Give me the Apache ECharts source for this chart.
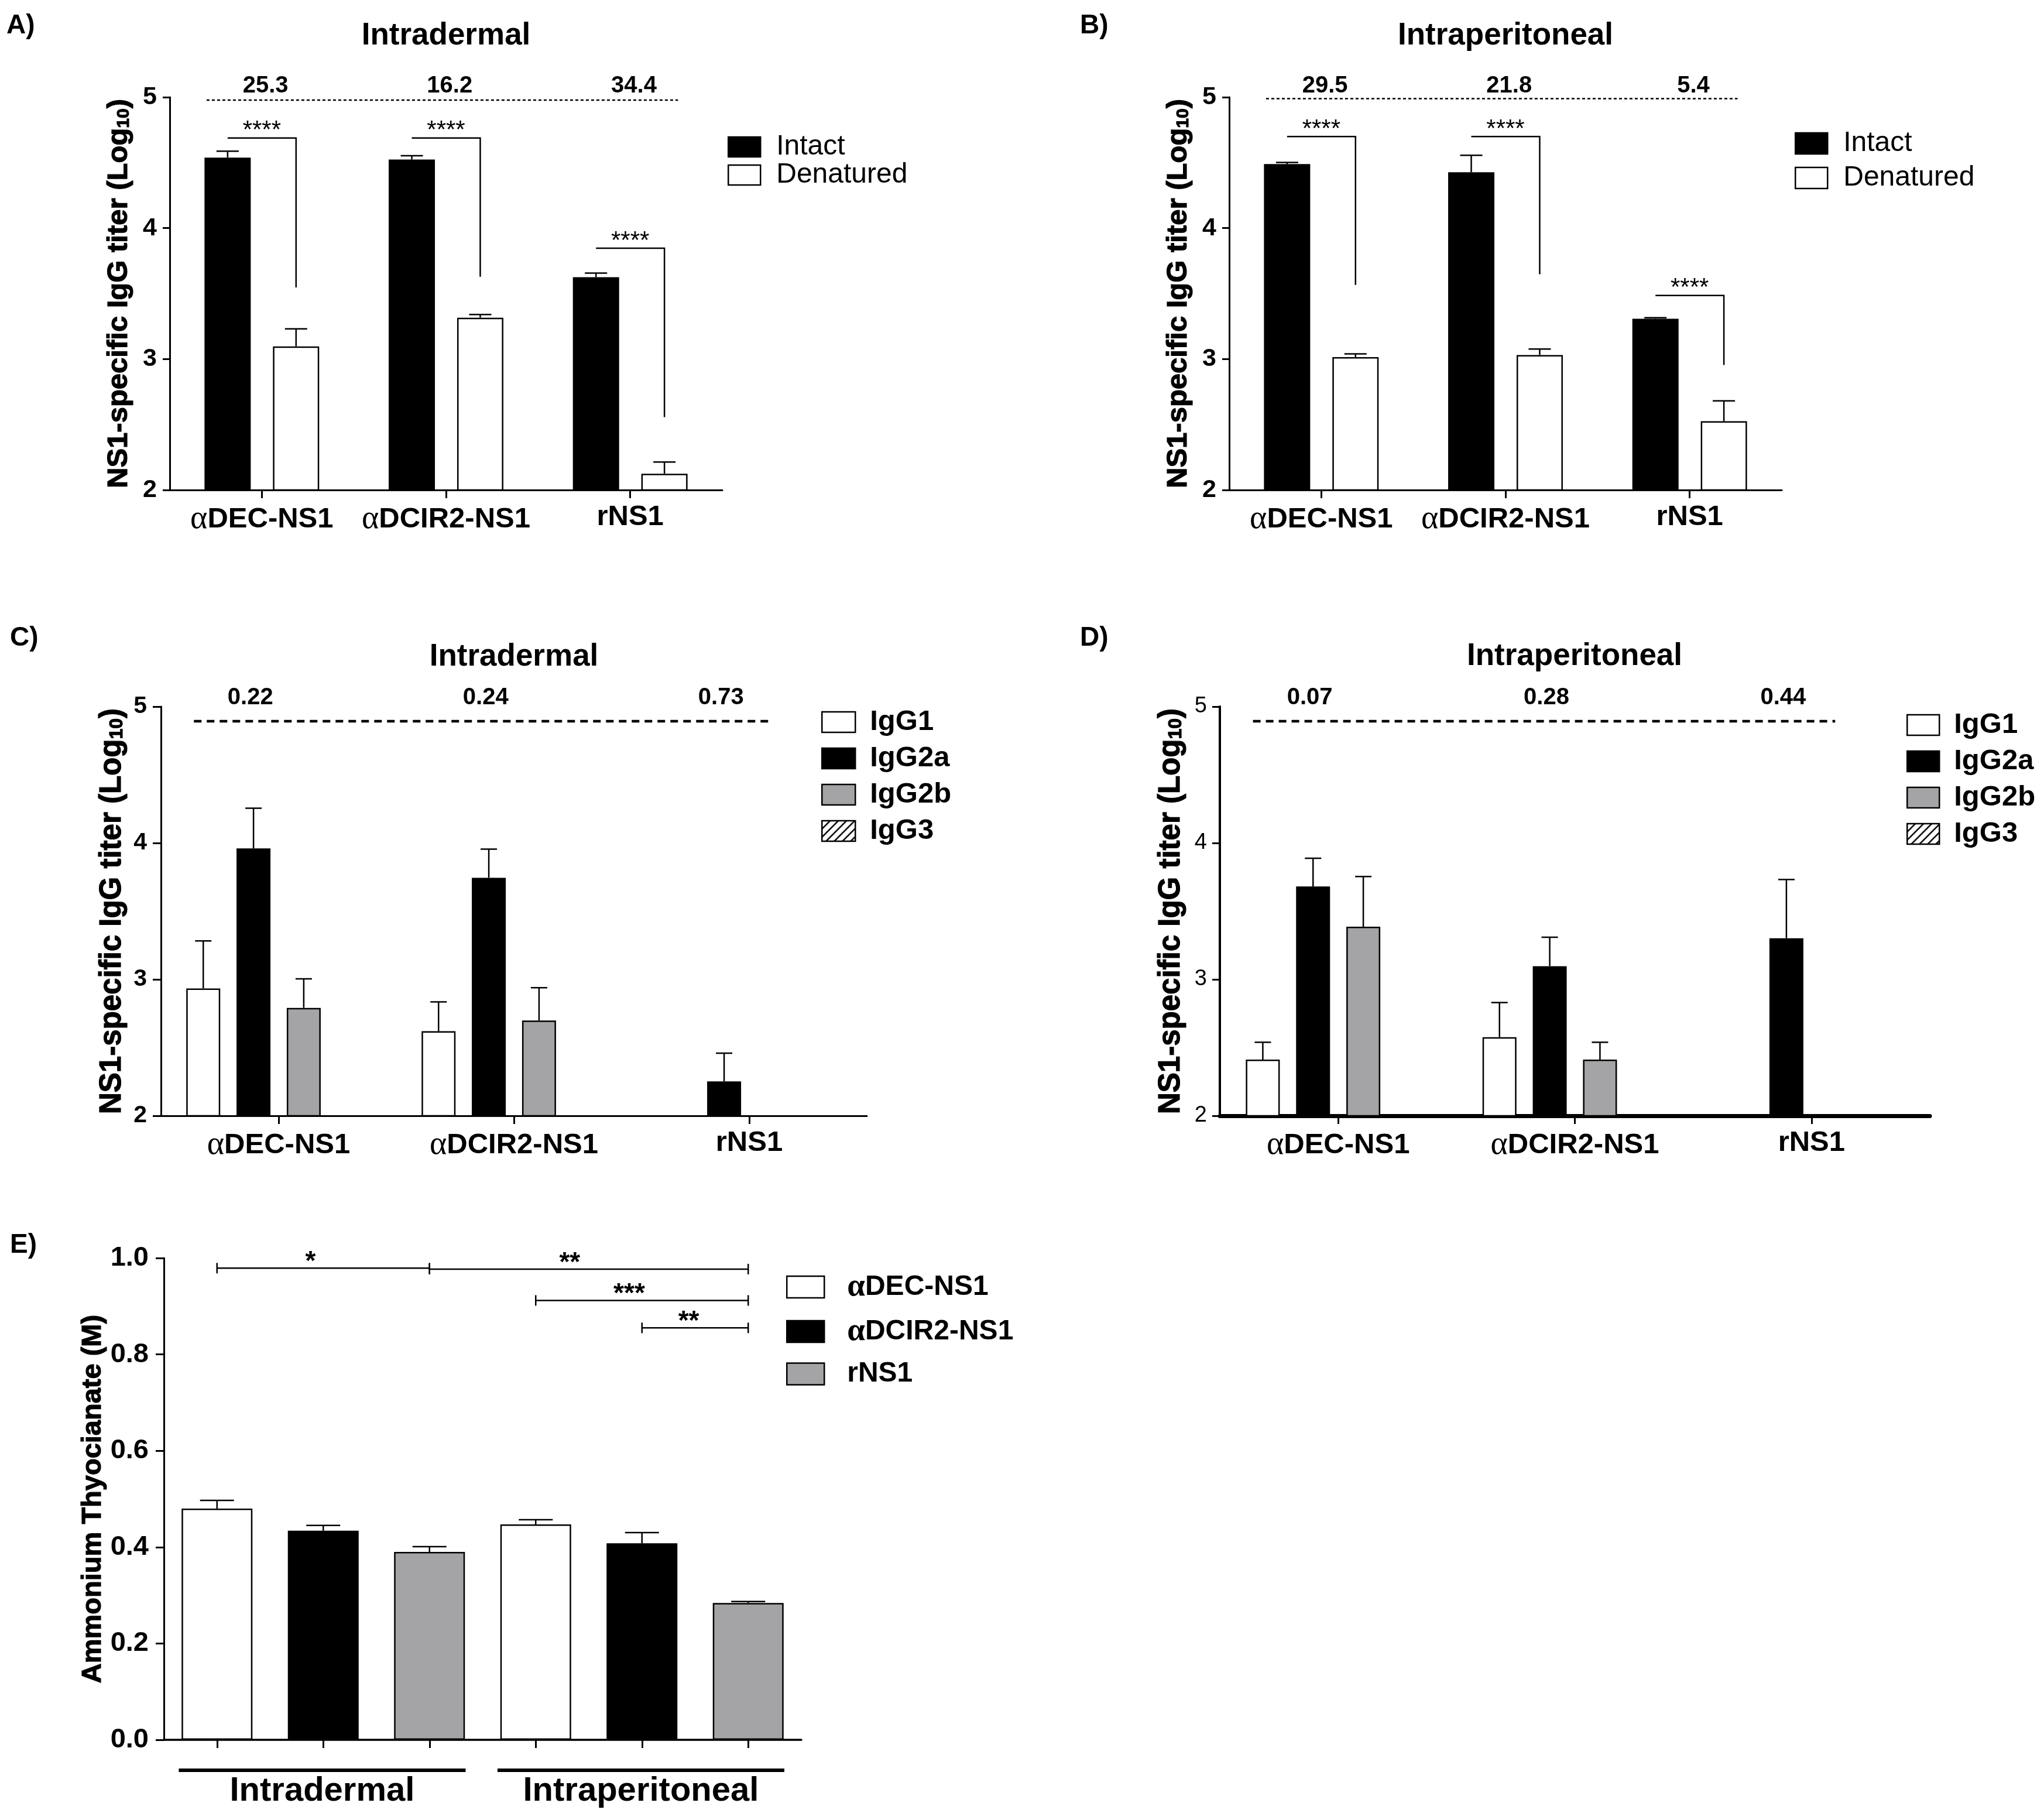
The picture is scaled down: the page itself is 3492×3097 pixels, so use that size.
<!DOCTYPE html>
<html>
<head>
<meta charset="utf-8">
<title>NS1-specific IgG responses</title>
<script src="https://cdn.jsdelivr.net/npm/echarts@6.0.0/dist/echarts.min.js"></script>
<style>
  html, body { margin: 0; padding: 0; background: #fff; }
  #chart { width: 3492px; height: 3097px; }
</style>
</head>
<body>
<div id="chart"></div>
<script>
(function (echarts) {
  "use strict";

  // ---- values (log10 titers: mean and upper SEM) ----
  var vaccines = ['αDEC-NS1', 'αDCIR2-NS1', 'rNS1'];
  var conformations = ['Intact', 'Denatured'];

  // A) intradermal, intact vs denatured NS1
  var idIntact = [4.538, 4.524, 3.625];
  var idIntactErr = [0.049, 0.029, 0.032];
  var idDenatured = [3.097, 3.316, 2.124];
  var idDenaturedErr = [0.134, 0.024, 0.089];
  var idRatio = ['25.3', '16.2', '34.4'];
  var idRatioLine = 4.978;
  var idSigTop = [4.688, 4.688, 3.846];
  var idSigDrop = [3.547, 3.628, 2.557];

  // B) intraperitoneal, intact vs denatured NS1
  var ipIntact = [4.489, 4.427, 3.308];
  var ipIntactErr = [0.013, 0.129, 0.008];
  var ipDenatured = [3.015, 3.031, 2.525];
  var ipDenaturedErr = [0.024, 0.045, 0.156];
  var ipRatio = ['29.5', '21.8', '5.4'];
  var ipRatioLine = 4.989;
  var ipSigTop = [4.699, 4.699, 3.485];
  var ipSigDrop = [3.566, 3.647, 2.955];

  var sigStars = ['****', '****', '****'];

  // C) intradermal IgG subclasses
  var subclasses = ['IgG1', 'IgG2a', 'IgG2b', 'IgG3'];
  var idIgG1 = [2.934, 2.620, '-'];
  var idIgG1Err = [0.348, 0.215, '-'];
  var idIgG2a = [3.960, 3.745, 2.252];
  var idIgG2aErr = [0.295, 0.210, 0.207];
  var idIgG2b = [2.791, 2.698, '-'];
  var idIgG2bErr = [0.213, 0.241, '-'];
  var idIgG3 = ['-', '-', '-'];
  var idIgG1Ratio = ['0.22', '0.24', '0.73'];

  // D) intraperitoneal IgG subclasses
  var ipIgG1 = [2.412, 2.576, '-'];
  var ipIgG1Err = [0.127, 0.254, '-'];
  var ipIgG2a = [3.681, 3.097, 3.302];
  var ipIgG2aErr = [0.207, 0.212, 0.430];
  var ipIgG2b = [3.386, 2.412, '-'];
  var ipIgG2bErr = [0.368, 0.127, '-'];
  var ipIgG3 = ['-', '-', '-'];
  var ipIgG1Ratio = ['0.07', '0.28', '0.44'];

  var subRatioLine = 4.893;

  // E) avidity, ammonium thiocyanate (M)
  var routes = ['Intradermal', 'Intraperitoneal'];
  var routeFrom = [0, 3];
  var routeTo = [2, 5];
  var avidityBars = ['ID αDEC-NS1', 'ID αDCIR2-NS1', 'ID rNS1', 'IP αDEC-NS1', 'IP αDCIR2-NS1', 'IP rNS1'];
  var avidDEC = [0.480, 0.447];
  var avidDECErr = [0.017, 0.010];
  var avidDCIR2 = [0.434, 0.408];
  var avidDCIR2Err = [0.011, 0.022];
  var avidRNS1 = [0.390, 0.284];
  var avidRNS1Err = [0.011, 0.003];
  var avidSigFrom = [0, 2, 3, 4];
  var avidSigTo = [2, 5, 5, 5];
  var avidSigAt = [0.979, 0.977, 0.912, 0.855];
  var avidSigText = ['*', '**', '***', '**'];

  var panelLetters = ['A)', 'B)', 'C)', 'D)', 'E)'];
  var panelTitles = ['Intradermal', 'Intraperitoneal', 'Intradermal', 'Intraperitoneal'];

  // ---- styling helpers ----
  var FONT = "'Liberation Sans', Arial, Helvetica, sans-serif";
  var SERIF = "'Liberation Serif', 'DejaVu Serif', serif";
  var GRAY = '#a4a4a7';
  var LOG_NAME = '{a|NS1-specific IgG titer (Log}{s|10}{a|)}';

  function hatchCanvas() {
    var c = document.createElement('canvas');
    c.width = 14;
    c.height = 14;
    var ctx = c.getContext('2d');
    ctx.fillStyle = '#fff';
    ctx.fillRect(0, 0, 14, 14);
    ctx.strokeStyle = '#000';
    ctx.lineWidth = 2.5;
    ctx.beginPath();
    ctx.moveTo(-3, 3); ctx.lineTo(3, -3);
    ctx.moveTo(-3, 17); ctx.lineTo(17, -3);
    ctx.moveTo(11, 17); ctx.lineTo(17, 11);
    ctx.stroke();
    return c;
  }
  var HATCH = { image: hatchCanvas(), repeat: 'repeat' };

  function alphaText(v) {
    return v.charAt(0) === 'α' ? '{g|α}{b|' + v.slice(1) + '}' : '{b|' + v + '}';
  }
  function alphaRich(size) {
    return {
      g: { fontFamily: SERIF, fontSize: Math.round(size * 1.15), color: '#000' },
      b: { fontFamily: FONT, fontSize: size, fontWeight: 'bold', color: '#000' }
    };
  }

  function categoryAxis(grid, data, o) {
    return {
      type: 'category', gridIndex: grid, data: data,
      axisLine: { show: true, lineStyle: { color: '#000', width: o.line } },
      axisTick: { show: true, alignWithLabel: true, interval: 0, length: 14, lineStyle: { color: '#000', width: 3 } },
      axisLabel: o.size
        ? { show: true, interval: 0, margin: o.margin, formatter: alphaText, rich: alphaRich(o.size) }
        : { show: false, interval: 0 },
      splitLine: { show: false }
    };
  }

  function valueAxis(grid, o) {
    var heavy = { textBorderColor: '#000', textBorderWidth: 1.2 };
    var base = Object.assign({ fontFamily: FONT, fontWeight: 'bold', fontSize: o.nameSize, color: '#000' }, heavy);
    return {
      type: 'value', gridIndex: grid, min: o.min, max: o.max, interval: o.step,
      name: o.name, nameLocation: 'middle', nameRotate: 90, nameGap: o.gap,
      nameTextStyle: Object.assign({}, base, {
        rich: {
          a: base,
          s: Object.assign({ fontFamily: FONT, fontWeight: 'bold', fontSize: Math.round(o.nameSize * 0.62), color: '#000',
               padding: [Math.round(o.nameSize * 0.34), 0, 0, 0] }, heavy)
        }
      }),
      axisLine: { show: true, lineStyle: { color: '#000', width: o.line || 3 } },
      axisTick: { show: true, length: o.tick, lineStyle: { color: '#000', width: 3 } },
      axisLabel: { show: true, margin: o.margin, color: '#000', fontFamily: FONT,
                   fontWeight: o.weight, fontSize: o.labelSize, formatter: o.fmt },
      splitLine: { show: false }
    };
  }

  function barSeries(name, grid, data, color, width, gap) {
    return {
      type: 'bar', name: name, xAxisIndex: grid, yAxisIndex: grid, data: data,
      barWidth: width, barGap: gap, z: 2, animation: false,
      itemStyle: { color: color, borderColor: '#000', borderWidth: 2.5 },
      emphasis: { disabled: true }
    };
  }

  // one-sided SEM whisker above each bar
  function errorSeries(grid, means, errs, offset, capHalf) {
    var data = [];
    means.forEach(function (m, i) {
      if (m !== '-') data.push([i, m, errs[i]]);
    });
    return {
      type: 'custom', xAxisIndex: grid, yAxisIndex: grid, data: data,
      encode: { x: 0, y: 1 }, z: 3, silent: true, animation: false,
      renderItem: function (params, api) {
        var base = api.coord([api.value(0), api.value(1)]);
        var tip = api.coord([api.value(0), api.value(1) + api.value(2)]);
        var x = base[0] + offset;
        return { type: 'group', children: [
          { type: 'line', shape: { x1: x, y1: base[1], x2: x, y2: tip[1] },
            style: { stroke: '#000', lineWidth: 2.5 } },
          { type: 'line', shape: { x1: x - capHalf, y1: tip[1], x2: x + capHalf, y2: tip[1] },
            style: { stroke: '#000', lineWidth: 2.5 } }
        ] };
      }
    };
  }

  // intact vs denatured significance brackets
  function bracketSeries(grid, tops, drops, texts, half) {
    var data = tops.map(function (t, i) { return [i, t, drops[i]]; });
    return {
      type: 'custom', xAxisIndex: grid, yAxisIndex: grid, data: data,
      encode: { x: 0, y: 1 }, z: 4, silent: true, animation: false,
      renderItem: function (params, api) {
        var a = api.coord([api.value(0), api.value(1)]);
        var b = api.coord([api.value(0), api.value(2)]);
        return { type: 'group', children: [
          { type: 'polyline',
            shape: { points: [[a[0] - half, a[1]], [a[0] + half, a[1]], [a[0] + half, b[1]]] },
            style: { stroke: '#000', lineWidth: 2.5, fill: 'none' } },
          { type: 'text', x: a[0], y: a[1] - 12,
            style: { text: texts[params.dataIndex], align: 'center', verticalAlign: 'middle',
                     fontFamily: FONT, fontSize: 42, fill: '#000' } }
        ] };
      }
    };
  }

  // ratio numbers above a dashed reference line
  function ratioSeries(grid, texts, lineAt, axisTop, o) {
    var data = texts.map(function (t, i) { return [i, lineAt]; });
    return {
      type: 'custom', xAxisIndex: grid, yAxisIndex: grid, data: data,
      encode: { x: 0, y: 1 }, z: 4, silent: true, animation: false,
      renderItem: function (params, api) {
        var i = api.value(0);
        var p = api.coord([i, lineAt]);
        var top = api.coord([i, axisTop])[1];
        var cw = api.size([1, 0])[0];
        var kids = [{ type: 'text', x: p[0] + o.shift * cw, y: top - o.rise,
          style: { text: texts[params.dataIndex], align: 'center', verticalAlign: 'middle',
                   fontFamily: FONT, fontWeight: o.weight, fontSize: o.size, fill: '#000' } }];
        if (params.dataIndex === 0) {
          var last = api.coord([texts.length - 1, lineAt]);
          kids.push({ type: 'line',
            shape: { x1: p[0] - o.lead * cw, y1: p[1], x2: last[0] + o.tail * cw, y2: p[1] },
            style: { stroke: '#000', lineWidth: o.width, lineDash: o.dash } });
        }
        return { type: 'group', children: kids };
      }
    };
  }

  function avidityBracketSeries(grid) {
    var data = avidSigFrom.map(function (f, i) { return [f, avidSigTo[i], avidSigAt[i]]; });
    return {
      type: 'custom', xAxisIndex: grid, yAxisIndex: grid, data: data,
      encode: { x: 0, y: 2 }, z: 4, silent: true, animation: false,
      renderItem: function (params, api) {
        var a = api.coord([api.value(0), api.value(2)]);
        var b = api.coord([api.value(1), api.value(2)]);
        var st = function () { return { stroke: '#000', lineWidth: 2.5 }; };
        return { type: 'group', children: [
          { type: 'line', shape: { x1: a[0], y1: a[1], x2: b[0], y2: b[1] }, style: st() },
          { type: 'line', shape: { x1: a[0], y1: a[1] - 9, x2: a[0], y2: a[1] + 9 }, style: st() },
          { type: 'line', shape: { x1: b[0], y1: b[1] - 9, x2: b[0], y2: b[1] + 9 }, style: st() },
          { type: 'text', x: (a[0] + b[0]) / 2 - 0.06 * (b[0] - a[0]), y: a[1] - 10,
            style: { text: avidSigText[params.dataIndex], align: 'center', verticalAlign: 'middle',
                     fontFamily: FONT, fontWeight: 'bold', fontSize: 46, fill: '#000' } }
        ] };
      }
    };
  }

  // route underline + label below the avidity bars
  function routeSeries(grid) {
    var data = routeFrom.map(function (f, i) { return [f, routeTo[i], 0]; });
    return {
      type: 'custom', xAxisIndex: grid, yAxisIndex: grid, data: data,
      encode: { x: 0, y: 2 }, z: 4, silent: true, animation: false,
      renderItem: function (params, api) {
        var a = api.coord([api.value(0), 0]);
        var b = api.coord([api.value(1), 0]);
        var cw = api.size([1, 0])[0];
        var x1 = a[0] - 0.36 * cw;
        var x2 = b[0] + 0.34 * cw;
        return { type: 'group', children: [
          { type: 'line', shape: { x1: x1, y1: a[1] + 52, x2: x2, y2: a[1] + 52 },
            style: { stroke: '#000', lineWidth: 6 } },
          { type: 'text', x: (x1 + x2) / 2, y: a[1] + 88,
            style: { text: routes[params.dataIndex], align: 'center', verticalAlign: 'middle',
                     fontFamily: FONT, fontWeight: 'bold', fontSize: 58, fill: '#000' } }
        ] };
      }
    };
  }

  function legendBox(names, left, top, o) {
    var ts = { fontFamily: FONT, fontSize: o.size, fontWeight: o.weight, color: '#000',
               padding: [0, 0, 0, o.pad] };
    var lg = {
      data: names, orient: 'vertical', left: left, top: top, padding: 0, selectedMode: false,
      icon: 'rect', itemWidth: o.w, itemHeight: o.h, itemGap: o.gap,
      itemStyle: { borderColor: '#000', borderWidth: 2.5 },
      textStyle: ts
    };
    if (o.alpha) {
      lg.formatter = alphaText;
      ts.rich = alphaRich(o.size);
    }
    return lg;
  }

  function spread(values, k) {
    var out = avidityBars.map(function () { return '-'; });
    values.forEach(function (v, g) { out[g * 3 + k] = v; });
    return out;
  }

  // ---- layout ----
  var pitchAB = 79 * 1.48;
  var pitchCD = 58 * 1.48;
  var idSub = [idIgG1, idIgG2a, idIgG2b, idIgG3];
  var idSubErr = [idIgG1Err, idIgG2aErr, idIgG2bErr, idIgG3];
  var ipSub = [ipIgG1, ipIgG2a, ipIgG2b, ipIgG3];
  var ipSubErr = [ipIgG1Err, ipIgG2aErr, ipIgG2bErr, ipIgG3];
  var subColors = ['#fff', '#000', GRAY, HATCH];
  var avid = [avidDEC, avidDCIR2, avidRNS1];
  var avidErr = [avidDECErr, avidDCIR2Err, avidRNS1Err];
  var avidColors = ['#fff', '#000', GRAY];

  var series = [];
  [[0, idIntact, idIntactErr, idDenatured, idDenaturedErr, idSigTop, idSigDrop, idRatio, idRatioLine],
   [1, ipIntact, ipIntactErr, ipDenatured, ipDenaturedErr, ipSigTop, ipSigDrop, ipRatio, ipRatioLine]]
    .forEach(function (p) {
      var g = p[0];
      series.push(barSeries(conformations[0], g, p[1], '#000', 79, '48%'));
      series.push(barSeries(conformations[1], g, p[3], '#fff', 79, '48%'));
      series.push(errorSeries(g, p[1], p[2], -pitchAB / 2, 19));
      series.push(errorSeries(g, p[3], p[4], pitchAB / 2, 19));
      series.push(bracketSeries(g, p[5], p[6], sigStars, pitchAB / 2));
      series.push(ratioSeries(g, p[7], p[8], 5, { shift: 0.02, rise: 19, weight: 'bold', size: 40,
        lead: 0.3, tail: 0.26, width: 2.5, dash: [5, 4] }));
    });

  [[2, idSub, idSubErr, idIgG1Ratio], [3, ipSub, ipSubErr, ipIgG1Ratio]].forEach(function (p) {
    var g = p[0];
    subclasses.forEach(function (name, k) {
      series.push(barSeries(name, g, p[1][k], subColors[k], 58, '48%'));
    });
    subclasses.forEach(function (name, k) {
      series.push(errorSeries(g, p[1][k], p[2][k], (k - 1.5) * pitchCD, 14));
    });
    series.push(ratioSeries(g, p[3], subRatioLine, 5, { shift: -0.12, rise: 15, weight: 'bold', size: 40,
      lead: 0.36, tail: 0.1, width: 4.5, dash: [13, 9] }));
  });

  vaccines.forEach(function (name, k) {
    series.push(barSeries(name, 4, spread(avid[k], k), avidColors[k], 121, '-100%'));
  });
  vaccines.forEach(function (name, k) {
    series.push(errorSeries(4, spread(avid[k], k), spread(avidErr[k], k), 0, 29));
  });
  series.push(avidityBracketSeries(4));
  series.push(routeSeries(4));

  var letterPos = [[11, 44], [1845, 44], [17, 1090], [1845, 1090], [17, 2127]];
  var titlePos = [[762, 61], [2572, 61], [878, 1122], [2690, 1121]];
  var graphic = [];
  panelLetters.forEach(function (t, i) {
    graphic.push({ type: 'text', x: letterPos[i][0], y: letterPos[i][1],
      style: { text: t, align: 'left', verticalAlign: 'middle', fontFamily: FONT,
               fontWeight: 'bold', fontSize: 46, fill: '#000' } });
  });
  panelTitles.forEach(function (t, i) {
    graphic.push({ type: 'text', x: titlePos[i][0], y: titlePos[i][1],
      style: { text: t, align: 'center', verticalAlign: 'middle', fontFamily: FONT,
               fontWeight: 'bold', fontSize: 53, fill: '#000' } });
  });

  var option = {
    backgroundColor: '#fff',
    animation: false,
    textStyle: { fontFamily: FONT, color: '#000' },
    grid: [
      { left: 290, top: 166, width: 944, height: 671, outerBoundsMode: 'none' },
      { left: 2100, top: 166, width: 944, height: 671, outerBoundsMode: 'none' },
      { left: 275, top: 1207, width: 1206, height: 699, outerBoundsMode: 'none' },
      { left: 2084, top: 1207, width: 1213, height: 699, outerBoundsMode: 'none' },
      { left: 280, top: 2149, width: 1089, height: 823, outerBoundsMode: 'none' }
    ],
    xAxis: [
      categoryAxis(0, vaccines, { line: 3, size: 49, margin: 22 }),
      categoryAxis(1, vaccines, { line: 3, size: 49, margin: 22 }),
      categoryAxis(2, vaccines, { line: 3, size: 49, margin: 22 }),
      categoryAxis(3, vaccines, { line: 7, size: 49, margin: 22 }),
      categoryAxis(4, avidityBars, { line: 3.5 })
    ],
    yAxis: [
      valueAxis(0, { min: 2, max: 5, step: 1, name: LOG_NAME, nameSize: 49, gap: 62,
                     tick: 12, margin: 22, weight: 'bold', labelSize: 43 }),
      valueAxis(1, { min: 2, max: 5, step: 1, name: LOG_NAME, nameSize: 49, gap: 62,
                     tick: 12, margin: 22, weight: 'bold', labelSize: 43 }),
      valueAxis(2, { min: 2, max: 5, step: 1, name: LOG_NAME, nameSize: 51, gap: 58,
                     tick: 14, margin: 24, weight: 'bold', labelSize: 41 }),
      valueAxis(3, { min: 2, max: 5, step: 1, name: LOG_NAME, nameSize: 51, gap: 58, line: 4,
                     tick: 13, margin: 22, weight: 'normal', labelSize: 38 }),
      valueAxis(4, { min: 0, max: 1, step: 0.2, name: 'Ammonium Thyocianate (M)', nameSize: 47, gap: 97,
                     tick: 14, margin: 26, weight: 'bold', labelSize: 47,
                     fmt: function (v) { return v.toFixed(1); } })
    ],
    legend: [
      legendBox(conformations, 1243, 227, { w: 55, h: 34, gap: 0, size: 48, weight: 'normal', pad: 22 }),
      legendBox(conformations, 3066, 221, { w: 55, h: 36, gap: 11, size: 48, weight: 'normal', pad: 22 }),
      legendBox(subclasses, 1403, 1209, { w: 57, h: 35, gap: 13, size: 49, weight: 'bold', pad: 20 }),
      legendBox(subclasses, 3257, 1214, { w: 55, h: 35, gap: 13, size: 49, weight: 'bold', pad: 20 }),
      legendBox(vaccines, 1343, 2171, { w: 64, h: 37, gap: 21, size: 48, weight: 'bold', pad: 34, alpha: true })
    ],
    graphic: graphic,
    series: series
  };

  var chart = echarts.init(document.getElementById('chart'), null, { renderer: 'canvas' });
  chart.setOption(option);
})(echarts);
</script>
</body>
</html>
